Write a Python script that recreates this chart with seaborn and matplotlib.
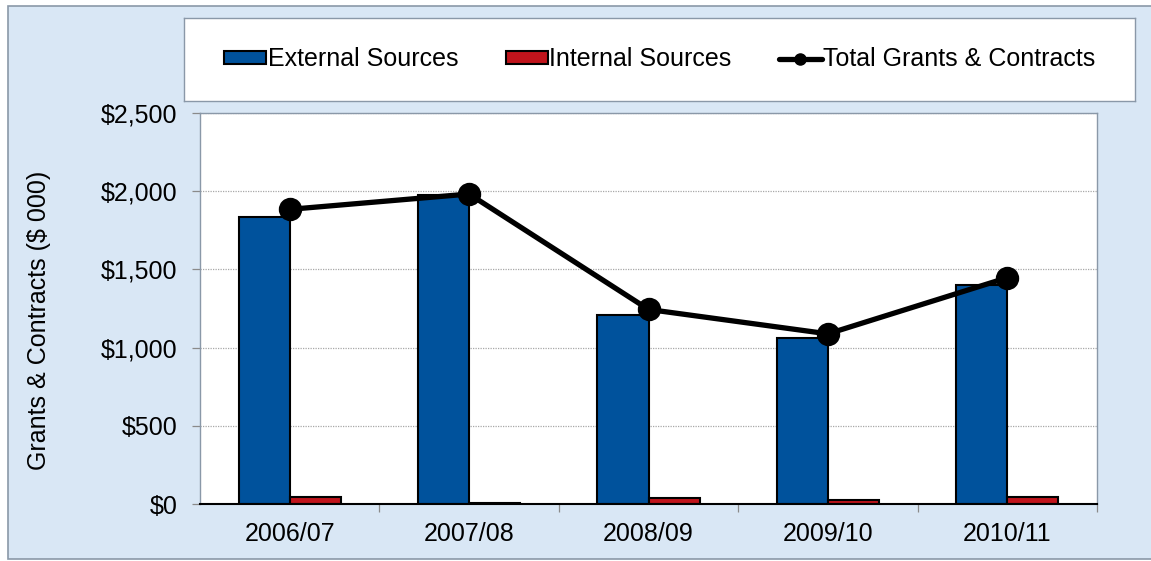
import pandas as pd
import seaborn as sns
import matplotlib.pyplot as plt
from matplotlib.patches import Rectangle
from matplotlib.lines import Line2D
from matplotlib.ticker import StrMethodFormatter, FixedLocator

# data ($ 000)
years = ['2006/07', '2007/08', '2008/09', '2009/10', '2010/11']
external = [1837, 1975, 1208, 1060, 1400]
internal = [47, 7, 36, 28, 47]
total = [1884, 1982, 1244, 1088, 1447]

df = pd.DataFrame({
    'year': years * 2,
    'source': ['External Sources'] * 5 + ['Internal Sources'] * 5,
    'value': external + internal,
})

sns.set_style('white')
plt.rcParams['font.family'] = ['Liberation Sans', 'DejaVu Sans']
plt.rcParams['text.color'] = 'black'
plt.rcParams['axes.labelcolor'] = 'black'
plt.rcParams['xtick.labelcolor'] = 'black'
plt.rcParams['ytick.labelcolor'] = 'black'

fig = plt.figure(figsize=(11.51, 5.61), dpi=100)
fig.patch.set_facecolor('white')

# light blue background with thin grey frame (behind the axes)
fig.patches.append(Rectangle((8 / 1151, 2 / 561), 1.0, 553 / 561, transform=fig.transFigure,
                             facecolor='#d9e7f5', edgecolor='#8a98a8', linewidth=1.2, zorder=-5))

# legend box
lax = fig.add_axes([184 / 1151, 1 - 101 / 561, 951 / 1151, 83 / 561])
lax.set_facecolor('white')
lax.set_xticks([])
lax.set_yticks([])
for s in lax.spines.values():
    s.set_color('#8a98a8')
    s.set_linewidth(1.0)

ax = fig.add_axes([200 / 1151, 1 - 504 / 561, 897 / 1151, 391 / 561])
ax.set_facecolor('white')

sns.barplot(data=df, x='year', y='value', hue='source', palette=['#00529c', '#c0141c'],
            saturation=1, width=0.57, edgecolor='black', linewidth=1.5, ax=ax, zorder=2)
sns.pointplot(x=years, y=total, color='black', markers='o', linestyles='-',
              markersize=14, linewidth=3.8, errorbar=None, ax=ax, zorder=4)

ax.set_ylim(0, 2500)
ax.set_xlim(-0.5, 4.5)
ax.yaxis.set_major_locator(FixedLocator([0, 500, 1000, 1500, 2000, 2500]))
ax.yaxis.set_major_formatter(StrMethodFormatter('${x:,.0f}'))
ax.yaxis.grid(True, color='#a8a8a8', linestyle=(0, (1, 1)), linewidth=0.9, zorder=0)
ax.set_axisbelow(True)

ax.set_xticks(range(5))
ax.set_xticklabels(years)
ax.xaxis.set_minor_locator(FixedLocator([0.5, 1.5, 2.5, 3.5, 4.5]))
ax.tick_params(axis='x', which='major', length=0, pad=13, labelsize=18)
ax.tick_params(axis='x', which='minor', length=6, width=0.9, color='#8a8a8a', direction='out')
ax.tick_params(axis='y', length=6, width=0.9, color='#8a8a8a', direction='out', pad=10, labelsize=18)
ax.tick_params(axis='y', left=True)
ax.tick_params(axis='x', which='minor', bottom=True)

for name in ['left', 'top', 'right']:
    ax.spines[name].set_color('#8a98a8')
    ax.spines[name].set_linewidth(1.0)
ax.spines['bottom'].set_color('black')
ax.spines['bottom'].set_linewidth(1.5)

ax.set_xlabel('')
ax.set_ylabel('Grants & Contracts ($ 000)', fontsize=18)
ax.yaxis.set_label_coords(-0.166, 0.47)

handles, labels = ax.get_legend_handles_labels()
ax.get_legend().remove()
handles = handles[:2] + [Line2D([], [], color='black', linewidth=3.8, marker='o', markersize=8)]
labels = ['External Sources', 'Internal Sources', 'Total Grants & Contracts']
lax.legend(handles, labels, loc='center', ncol=3, frameon=False, fontsize=18,
           handlelength=1.7, handleheight=0.4, handletextpad=0.05, columnspacing=1.9)

plt.savefig('out.png', dpi=100)
